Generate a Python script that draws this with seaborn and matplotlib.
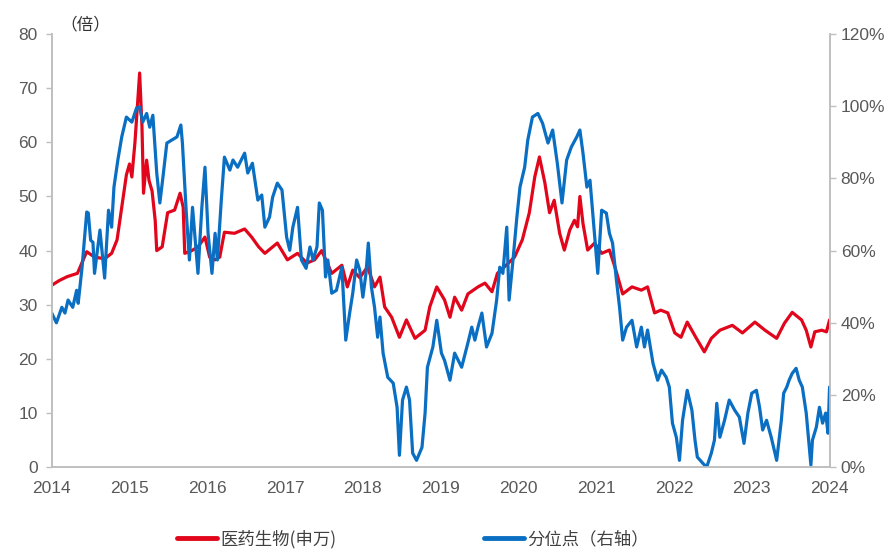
import pandas as pd
import matplotlib
matplotlib.use('Agg')
import matplotlib.pyplot as plt
import seaborn as sns
from matplotlib.lines import Line2D

# PE of the index (left axis, 倍)
pe_year = [2014.00, 2014.10, 2014.20, 2014.33, 2014.45, 2014.55, 2014.68, 2014.77, 2014.84, 2014.91,
           2014.96, 2015.00, 2015.03, 2015.07, 2015.13, 2015.16, 2015.18, 2015.22, 2015.25, 2015.29,
           2015.33, 2015.35, 2015.42, 2015.49, 2015.58, 2015.65, 2015.69, 2015.71, 2015.80, 2015.88,
           2015.97, 2016.03, 2016.10, 2016.16, 2016.22, 2016.35, 2016.48, 2016.57, 2016.66, 2016.74,
           2016.90, 2017.03, 2017.16, 2017.28, 2017.38, 2017.47, 2017.60, 2017.73, 2017.80, 2017.87,
           2017.96, 2018.06, 2018.15, 2018.22, 2018.28, 2018.37, 2018.47, 2018.56, 2018.67, 2018.80,
           2018.86, 2018.95, 2019.05, 2019.12, 2019.18, 2019.27, 2019.35, 2019.48, 2019.57, 2019.66,
           2019.73, 2019.82, 2019.95, 2020.05, 2020.14, 2020.21, 2020.27, 2020.34, 2020.40, 2020.46,
           2020.53, 2020.59, 2020.66, 2020.72, 2020.76, 2020.79, 2020.83, 2020.89, 2020.98, 2021.07,
           2021.17, 2021.24, 2021.34, 2021.46, 2021.58, 2021.66, 2021.75, 2021.83, 2021.92, 2022.01,
           2022.09, 2022.17, 2022.28, 2022.39, 2022.48, 2022.59, 2022.75, 2022.88, 2023.04, 2023.17,
           2023.32, 2023.42, 2023.52, 2023.64, 2023.70, 2023.76, 2023.81, 2023.90, 2023.96, 2024.00]
pe_value = [33.6, 34.5, 35.2, 35.8, 39.8, 38.8, 38.5, 39.5, 42.0, 49.0,
            54.0, 56.0, 53.6, 60.0, 72.8, 63.0, 50.6, 56.7, 53.0, 51.0,
            45.6, 40.0, 40.7, 47.0, 47.5, 50.6, 48.0, 39.5, 40.0, 40.7,
            42.5, 38.8, 38.3, 38.8, 43.4, 43.2, 44.0, 42.5, 40.7, 39.5,
            41.4, 38.3, 39.5, 37.7, 38.3, 40.0, 35.8, 37.3, 33.3, 36.4,
            35.0, 37.0, 33.3, 35.1, 29.6, 27.7, 24.0, 27.2, 23.8, 25.3,
            29.6, 33.3, 30.9, 27.7, 31.4, 29.0, 32.0, 33.3, 34.0, 32.4,
            35.8, 37.0, 38.8, 42.0, 47.0, 53.6, 57.3, 52.5, 47.0, 49.3,
            43.2, 40.1, 43.8, 45.6, 44.4, 50.0, 45.0, 40.1, 41.4, 39.5,
            40.1, 37.0, 32.0, 33.3, 32.7, 33.3, 28.5, 29.0, 28.5, 24.8,
            24.0, 26.8, 24.0, 21.3, 23.8, 25.3, 26.2, 24.8, 26.8, 25.3,
            23.8, 26.6, 28.6, 27.2, 25.3, 22.2, 25.0, 25.3, 25.0, 27.2]

# percentile (right axis, %)
pct_year = [2014.00, 2014.06, 2014.13, 2014.17, 2014.21, 2014.27, 2014.32, 2014.34, 2014.39, 2014.45,
            2014.47, 2014.50, 2014.53, 2014.55, 2014.62, 2014.68, 2014.73, 2014.77, 2014.80, 2014.85,
            2014.90, 2014.96, 2015.03, 2015.09, 2015.13, 2015.17, 2015.22, 2015.26, 2015.30, 2015.35,
            2015.39, 2015.43, 2015.48, 2015.54, 2015.61, 2015.66, 2015.68, 2015.73, 2015.77, 2015.81,
            2015.88, 2015.93, 2015.97, 2016.01, 2016.06, 2016.10, 2016.13, 2016.18, 2016.22, 2016.29,
            2016.33, 2016.39, 2016.48, 2016.52, 2016.58, 2016.65, 2016.70, 2016.74, 2016.80, 2016.84,
            2016.90, 2016.96, 2017.02, 2017.06, 2017.10, 2017.16, 2017.21, 2017.27, 2017.32, 2017.36,
            2017.41, 2017.44, 2017.48, 2017.52, 2017.55, 2017.60, 2017.66, 2017.73, 2017.78, 2017.83,
            2017.87, 2017.92, 2017.96, 2018.00, 2018.04, 2018.07, 2018.11, 2018.15, 2018.19, 2018.22,
            2018.26, 2018.32, 2018.39, 2018.44, 2018.47, 2018.51, 2018.56, 2018.60, 2018.64, 2018.69,
            2018.76, 2018.80, 2018.83, 2018.90, 2018.95, 2019.01, 2019.05, 2019.12, 2019.18, 2019.27,
            2019.35, 2019.40, 2019.44, 2019.48, 2019.53, 2019.59, 2019.66, 2019.72, 2019.76, 2019.80,
            2019.85, 2019.88, 2019.93, 2019.98, 2020.02, 2020.08, 2020.12, 2020.18, 2020.25, 2020.31,
            2020.38, 2020.44, 2020.50, 2020.56, 2020.62, 2020.68, 2020.75, 2020.79, 2020.83, 2020.88,
            2020.92, 2020.96, 2021.02, 2021.07, 2021.13, 2021.17, 2021.21, 2021.26, 2021.30, 2021.34,
            2021.39, 2021.46, 2021.52, 2021.58, 2021.62, 2021.66, 2021.73, 2021.79, 2021.84, 2021.90,
            2021.94, 2021.98, 2022.03, 2022.07, 2022.11, 2022.17, 2022.23, 2022.27, 2022.30, 2022.37,
            2022.42, 2022.48, 2022.52, 2022.55, 2022.59, 2022.65, 2022.71, 2022.78, 2022.84, 2022.90,
            2022.95, 2023.00, 2023.06, 2023.10, 2023.14, 2023.19, 2023.25, 2023.32, 2023.38, 2023.41,
            2023.45, 2023.48, 2023.52, 2023.57, 2023.61, 2023.65, 2023.70, 2023.76, 2023.78, 2023.83,
            2023.87, 2023.91, 2023.95, 2023.98, 2024.00]
pct_value = [42.7, 40.0, 44.3, 42.7, 46.3, 44.3, 49.0, 45.4, 55.4, 70.7,
             70.4, 62.9, 62.3, 53.7, 65.7, 52.4, 71.2, 66.5, 77.6, 85.1,
             91.5, 97.0, 95.6, 99.5, 99.8, 95.6, 98.0, 94.2, 97.5, 81.5,
             73.2, 80.4, 89.8, 90.6, 91.5, 94.8, 89.8, 70.4, 57.4, 72.0,
             53.7, 72.0, 83.1, 64.8, 53.7, 64.8, 57.4, 74.0, 85.9, 82.3,
             85.1, 83.1, 87.0, 81.5, 84.2, 74.0, 75.4, 66.5, 69.3, 74.8,
             78.7, 76.8, 63.7, 60.1, 66.5, 72.0, 57.4, 55.1, 61.0, 57.4,
             61.0, 73.2, 71.2, 52.7, 57.4, 48.2, 49.0, 55.4, 35.2, 42.7,
             48.2, 57.4, 54.6, 47.1, 53.7, 62.1, 49.9, 44.3, 36.0, 41.6,
             31.6, 24.9, 23.3, 16.6, 3.3, 18.6, 22.2, 18.6, 3.9, 1.9,
             5.5, 15.0, 27.7, 33.3, 40.7, 31.6, 29.6, 24.1, 31.6, 27.7,
             34.4, 38.8, 35.2, 38.8, 42.7, 33.3, 37.1, 46.3, 55.4, 53.7,
             66.5, 46.3, 57.4, 69.3, 77.6, 83.1, 90.6, 97.0, 98.0, 95.3,
             89.8, 93.4, 84.2, 73.2, 85.1, 88.7, 91.5, 93.4, 87.0, 77.6,
             79.5, 69.3, 53.7, 71.2, 70.4, 64.8, 62.1, 51.8, 44.3, 35.2,
             38.8, 40.7, 33.3, 38.8, 33.3, 38.0, 28.8, 24.1, 26.9, 24.9,
             22.2, 12.2, 8.3, 1.9, 13.0, 21.3, 15.8, 7.5, 2.8, 1.1,
             0.0, 3.9, 7.5, 17.7, 8.3, 13.0, 18.6, 15.8, 13.9, 6.6,
             15.0, 20.5, 21.3, 16.6, 10.3, 13.0, 8.3, 1.9, 13.0, 20.5,
             22.2, 24.1, 26.0, 27.4, 24.1, 22.2, 15.0, 0.6, 7.5, 11.1,
             16.6, 12.2, 15.0, 9.4, 22.2]

years = list(range(2014, 2025))
red = '#E1061B'
blue = '#0A6FC2'
grey = '#595959'

sns.set_theme(style='white')
plt.rcParams['font.family'] = ['Liberation Sans', 'Noto Sans CJK SC']

pe_df = pd.DataFrame({'year': pe_year, 'pe': pe_value})
pct_df = pd.DataFrame({'year': pct_year, 'pct': pct_value})

fig = plt.figure(figsize=(8.92, 5.49), dpi=100)
ax = fig.add_axes([0.058, 0.149, 0.872, 0.789])
ax2 = ax.twinx()

sns.lineplot(data=pe_df, x='year', y='pe', ax=ax, color=red, linewidth=2.3)
sns.lineplot(data=pct_df, x='year', y='pct', ax=ax2, color=blue, linewidth=2.3)

ax.set_xlim(2014, 2024)
ax.set_ylim(0, 80)
ax2.set_ylim(0, 120)
ax.set_xticks(years)
ax.set_xticklabels([str(y) for y in years])
ax.set_yticks(range(0, 81, 10))
ax2.set_yticks(range(0, 121, 20))
ax2.set_yticklabels([f'{v}%' for v in range(0, 121, 20)])
ax.set_xlabel('')
ax.set_ylabel('')
ax2.set_ylabel('')

for a in (ax, ax2):
    a.spines['top'].set_visible(False)
    for s in ('left', 'right', 'bottom'):
        a.spines[s].set_color('#BFBFBF')
        a.spines[s].set_linewidth(1.2)
    a.tick_params(colors=grey, labelsize=12.5, length=4, width=1, direction='out')
    a.tick_params(axis='both', color='#BFBFBF')
    a.grid(False)
ax.tick_params(axis='y', pad=6)
ax.tick_params(axis='x', pad=6)
ax2.tick_params(axis='y', pad=4)

fig.text(0.068, 0.955, '（倍）', fontsize=12, color='#333333',
         family=['Noto Sans CJK SC', 'DejaVu Sans'], va='center')

handles = [Line2D([0], [0], color=red, linewidth=3.5),
           Line2D([0], [0], color=blue, linewidth=3.5)]
fig.legend(handles, ['医药生物(申万)', '分位点（右轴）'], loc='center',
           bbox_to_anchor=(0.463, 0.018), ncol=2, frameon=False, fontsize=12.5,
           handlelength=2.3, handletextpad=0.2, columnspacing=8.5,
           prop={'family': ['Noto Sans CJK SC', 'DejaVu Sans'], 'size': 12.5})
for t in fig.legends[0].get_texts():
    t.set_color('#404040')

fig.savefig('out.png', dpi=100)
